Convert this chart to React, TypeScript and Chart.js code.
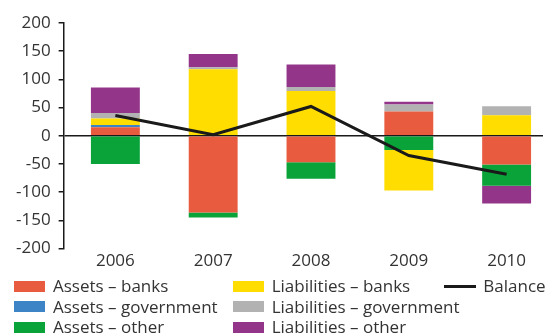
import React, { useEffect, useRef } from "react";
import { Chart, registerables } from "chart.js";

Chart.register(...registerables);

const years = [2006, 2007, 2008, 2009, 2010];
const assetsBanks = [15, -136, -47, 43, -51];
const assetsGov = [4, 0, 1.5, 0, 1.5];
const assetsOther = [-50, -9, -29, -25, -37.5];
const liabBanks = [11.5, 118, 78, -72, 35];
const liabGov = [10, 3.5, 7, 12.5, 16];
const liabOther = [45, 23.5, 40, 5, -31.5];
const balance = [36, 2, 52, -35, -68];
const yTicks = [-200, -150, -100, -50, 0, 50, 100, 150, 200];

const FONT = "'Open Sans', sans-serif";
const TEXT = "#333333";

const barSeries = [
  { label: "Assets – banks", data: assetsBanks, color: "#E95B3E" },
  { label: "Assets – government", data: assetsGov, color: "#3D84C6" },
  { label: "Assets – other", data: assetsOther, color: "#0AA33A" },
  { label: "Liabilities – banks", data: liabBanks, color: "#FFDD00" },
  { label: "Liabilities – government", data: liabGov, color: "#B2B2B2" },
  { label: "Liabilities – other", data: liabOther, color: "#93368A" },
];
const lineSeries = { label: "Balance", data: balance, color: "#1a1a1a" };

export default function App() {
  const ref = useRef<HTMLCanvasElement | null>(null);
  useEffect(() => {
    if (!ref.current) return;
    const chart = new Chart(ref.current, {
      type: "bar",
      data: {
        labels: years.map(String),
        datasets: [
          ...barSeries.map((s) => ({
            type: "bar" as const,
            label: s.label,
            data: s.data,
            backgroundColor: s.color,
            borderWidth: 0,
            barPercentage: 0.5,
            categoryPercentage: 1,
            order: 1,
          })),
          {
            type: "line" as const,
            label: lineSeries.label,
            data: lineSeries.data,
            borderColor: lineSeries.color,
            borderWidth: 3,
            pointRadius: 0,
            tension: 0,
            fill: false,
            order: 0,
          } as any,
        ],
      },
      options: {
        animation: false,
        responsive: false,
        maintainAspectRatio: false,
        layout: { padding: { top: 23, left: 8, right: 3, bottom: 63 } },
        plugins: { legend: { display: false }, tooltip: { enabled: false } },
        scales: {
          x: {
            type: "linear",
            stacked: true,
            offset: false,
            min: 2005.471,
            max: 2010.372,
            afterBuildTicks: (scale: any) => {
              scale.ticks = years.map((v) => ({ value: v }));
            },
            grid: { display: false, drawTicks: false, offset: false },
            border: { display: false },
            ticks: {
              callback: (v: any) => String(v),
              autoSkip: false,
              maxRotation: 0,
              padding: 2,
              color: TEXT,
              font: { family: FONT, size: 17 },
            },
          },
          y: {
            stacked: true,
            min: -200,
            max: 200,
            afterBuildTicks: (scale: any) => {
              scale.ticks = yTicks.map((v) => ({ value: v }));
            },
            grid: {
              color: (ctx: any) => (ctx.tick && ctx.tick.value === 0 ? "#1a1a1a" : "rgba(0,0,0,0)"),
              lineWidth: 1.5,
              tickColor: "#1a1a1a",
              tickLength: 5,
              drawTicks: true,
            },
            border: { display: true, color: "#1a1a1a", width: 1.5 },
            ticks: {
              padding: 8,
              color: TEXT,
              font: { family: FONT, size: 17 },
              callback: (v: any) => String(v),
            },
          },
        },
      },
    } as any);
    return () => chart.destroy();
  }, []);

  const rowTop = [276, 296.5, 317];
  const itemStyle = (left: number, top: number): React.CSSProperties => ({
    position: "absolute",
    left,
    top,
    height: 20,
    display: "flex",
    alignItems: "center",
    fontFamily: FONT,
    fontSize: 17,
    color: TEXT,
    whiteSpace: "nowrap",
    lineHeight: "20px",
  });
  const colLeft = [14, 232.7];

  return (
    <div style={{ position: "fixed", left: 0, top: 0, width: 546, height: 336, background: "#fff" }}>
      <canvas ref={ref} width={546} height={336} style={{ position: "absolute", left: 0, top: 0 }} />
      {barSeries.map((s, i) => (
        <div key={s.label} style={itemStyle(colLeft[Math.floor(i / 3)], rowTop[i % 3])}>
          <span style={{ display: "inline-block", width: 31, height: 11, background: s.color, marginRight: 8 }} />
          <span>{s.label}</span>
        </div>
      ))}
      <div style={itemStyle(444.3, rowTop[0])}>
        <span style={{ display: "inline-block", width: 32, height: 3, background: lineSeries.color, marginRight: 7 }} />
        <span>{lineSeries.label}</span>
      </div>
    </div>
  );
}
